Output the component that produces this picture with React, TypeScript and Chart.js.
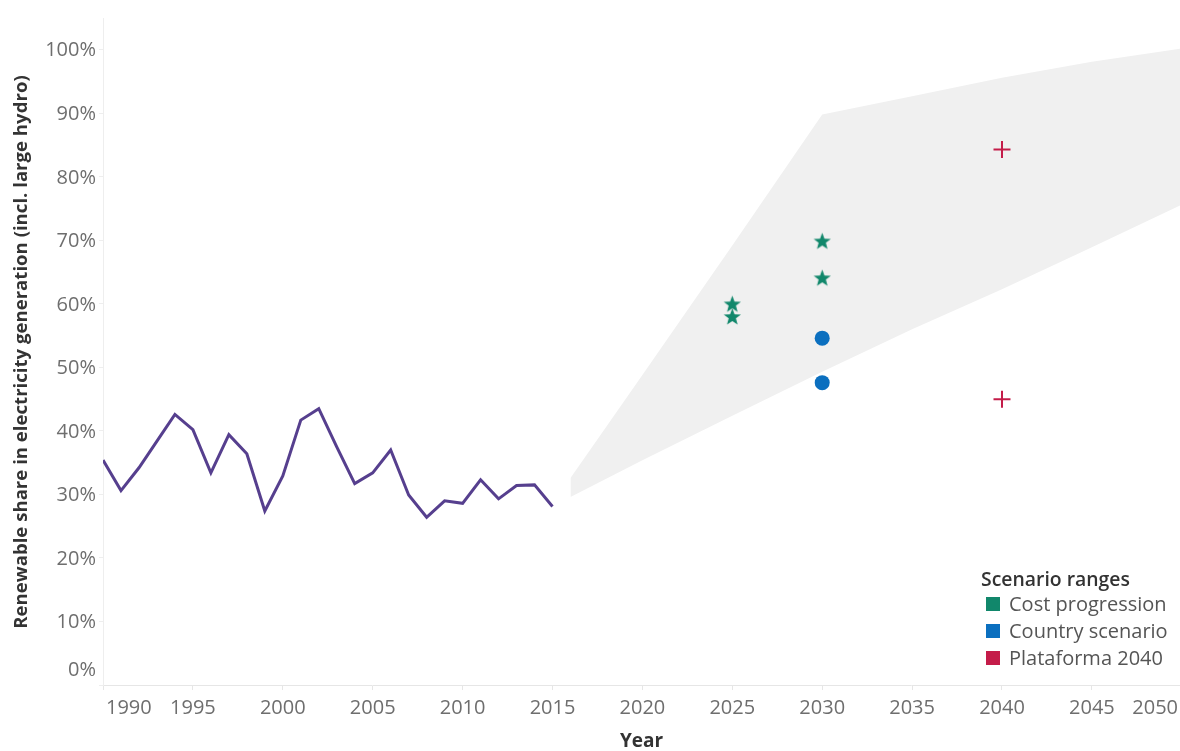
import { useEffect, useRef } from 'react';
import { Chart, registerables } from 'chart.js';

Chart.register(...registerables);

// ---------- data ----------
const historicYears = [1990, 1991, 1992, 1993, 1994, 1995, 1996, 1997, 1998, 1999, 2000, 2001, 2002, 2003, 2004, 2005, 2006, 2007, 2008, 2009, 2010, 2011, 2012, 2013, 2014, 2015];
const historicShare = [35.4, 30.6, 34.2, 38.4, 42.6, 40.2, 33.4, 39.4, 36.4, 27.4, 32.9, 41.7, 43.5, 37.5, 31.7, 33.4, 37.0, 29.9, 26.4, 29.0, 28.6, 32.3, 29.3, 31.4, 31.5, 28.1];

const rangeYears = [2016, 2020, 2025, 2030, 2035, 2040, 2045, 2050];
const rangeUpper = [32.6, 48.8, 69.2, 89.8, 92.7, 95.6, 98.1, 100.2];
const rangeLower = [29.6, 35.4, 42.4, 49.3, 56.0, 62.3, 68.9, 75.6];

const costYears = [2025, 2025, 2030, 2030];
const costShare = [60.0, 58.0, 69.9, 64.1];
const countryYears = [2030, 2030];
const countryShare = [54.6, 47.6];
const plataformaYears = [2040, 2040];
const plataformaShare = [84.3, 45.0];

const xTickYears = [1990, 1995, 2000, 2005, 2010, 2015, 2020, 2025, 2030, 2035, 2040, 2045, 2050];
const yTickValues = [0, 10, 20, 30, 40, 50, 60, 70, 80, 90, 100];

const legendTitle = 'Scenario ranges';
const legendLabels = ['Cost progression', 'Country scenario', 'Plataforma 2040'];
const legendColors = ['#11876b', '#0b6fbf', '#c41c49'];

const yTitle = 'Renewable share in electricity generation (incl. large hydro)';
const xTitle = 'Year';

const FONT = '"Open Sans", "DejaVu Sans", sans-serif';
const TICK_COLOR = '#6e6e6e';
const TITLE_COLOR = '#333333';

function makeStar(color: string): HTMLCanvasElement {
  const c = document.createElement('canvas');
  const s = 19;
  c.width = s;
  c.height = s;
  const g = c.getContext('2d')!;
  const cx = s / 2, cy = s / 2 + 0.7, R = 9, r = 3.8;
  g.beginPath();
  for (let i = 0; i < 10; i++) {
    const rad = i % 2 === 0 ? R : r;
    const a = -Math.PI / 2 + (i * Math.PI) / 5;
    const px = cx + rad * Math.cos(a);
    const py = cy + rad * Math.sin(a);
    if (i === 0) g.moveTo(px, py); else g.lineTo(px, py);
  }
  g.closePath();
  g.fillStyle = color;
  g.fill();
  return c;
}

const axisLabelsPlugin = {
  id: 'axisLabels',
  afterDraw(chart: any) {
    const { ctx, chartArea, scales } = chart;
    const xs = scales.x;
    const ys = scales.y;
    ctx.save();
    ctx.fillStyle = TICK_COLOR;
    ctx.font = `20px ${FONT}`;
    ctx.textBaseline = 'middle';
    xTickYears.forEach((v) => {
      const label = String(v);
      const w = ctx.measureText(label).width;
      let px = xs.getPixelForValue(v);
      ctx.textAlign = 'center';
      if (px - w / 2 < chartArea.left) {
        ctx.textAlign = 'left';
        px = chartArea.left + 3;
      } else if (px + w / 2 > chartArea.right) {
        ctx.textAlign = 'right';
        px = chartArea.right - 2;
      }
      ctx.fillText(label, px, chartArea.bottom + 23);
    });
    ctx.textAlign = 'right';
    yTickValues.forEach((v) => {
      let py = ys.getPixelForValue(v) + 1;
      if (py > chartArea.bottom - 12) py = chartArea.bottom - 15;
      ctx.fillText(`${v}%`, chartArea.left - 7, py);
    });
    // axis titles
    ctx.fillStyle = TITLE_COLOR;
    ctx.textAlign = 'center';
    ctx.font = `bold 19px ${FONT}`;
    ctx.fillText(xTitle, (chartArea.left + chartArea.right) / 2, 742);
    ctx.font = `bold 18.6px ${FONT}`;
    ctx.translate(22, 352);
    ctx.rotate(-Math.PI / 2);
    ctx.fillText(yTitle, 0, 0);
    ctx.restore();
  },
};

export default function App() {
  const ref = useRef<HTMLCanvasElement>(null);

  useEffect(() => {
    document.body.style.margin = '0';
    const star = makeStar(legendColors[0]);
    const chart = new Chart(ref.current!, {
      type: 'line',
      data: {
        datasets: [
          {
            label: 'upper',
            data: rangeYears.map((x, i) => ({ x, y: rangeUpper[i] })),
            borderWidth: 0,
            borderColor: 'rgba(0,0,0,0)',
            backgroundColor: '#f0f0f0',
            pointRadius: 0,
            fill: '+1',
            tension: 0,
            order: 10,
          },
          {
            label: 'lower',
            data: rangeYears.map((x, i) => ({ x, y: rangeLower[i] })),
            borderWidth: 0,
            borderColor: 'rgba(0,0,0,0)',
            pointRadius: 0,
            fill: false,
            tension: 0,
            order: 11,
          },
          {
            label: 'Historic',
            data: historicYears.map((x, i) => ({ x, y: historicShare[i] })),
            borderColor: '#563f8e',
            borderWidth: 3,
            pointRadius: 0,
            fill: false,
            tension: 0,
            order: 5,
          },
          {
            label: legendLabels[0],
            data: costYears.map((x, i) => ({ x, y: costShare[i] })),
            showLine: false,
            pointStyle: star as any,
            pointRadius: 9,
            backgroundColor: legendColors[0],
            borderColor: legendColors[0],
            order: 1,
          },
          {
            label: legendLabels[1],
            data: countryYears.map((x, i) => ({ x, y: countryShare[i] })),
            showLine: false,
            pointStyle: 'circle',
            pointRadius: 7.5,
            borderWidth: 0,
            backgroundColor: legendColors[1],
            borderColor: legendColors[1],
            order: 1,
          },
          {
            label: legendLabels[2],
            data: plataformaYears.map((x, i) => ({ x, y: plataformaShare[i] })),
            showLine: false,
            pointStyle: 'cross',
            pointRadius: 8.5,
            borderWidth: 2,
            backgroundColor: legendColors[2],
            borderColor: legendColors[2],
            order: 1,
          },
        ],
      },
      options: {
        animation: false,
        responsive: true,
        maintainAspectRatio: false,
        layout: { autoPadding: false, padding: { top: 18, right: 0, left: 0, bottom: 0 } },
        plugins: {
          legend: { display: false },
          tooltip: { enabled: false },
        },
        scales: {
          x: {
            type: 'linear',
            min: 1990,
            max: 2049.9,
            afterBuildTicks: (s: any) => {
              s.ticks = xTickYears.filter((v) => v <= 2049.9).map((v) => ({ value: v }));
            },
            afterFit: (s: any) => {
              s.height = 66;
              s.paddingLeft = 0;
              s.paddingRight = 0;
            },
            ticks: { display: false },
            grid: { drawOnChartArea: false, drawTicks: true, tickLength: 5, color: '#e6e6e6' },
            border: { color: '#e6e6e6' },
          },
          y: {
            type: 'linear',
            min: 0,
            max: 105,
            afterBuildTicks: (s: any) => {
              s.ticks = yTickValues.map((v) => ({ value: v }));
            },
            afterFit: (s: any) => {
              s.width = 103;
              s.paddingTop = 0;
              s.paddingBottom = 0;
            },
            ticks: { display: false },
            grid: { drawOnChartArea: false, drawTicks: true, tickLength: 4, color: '#eeeeee' },
            border: { color: '#eeeeee' },
          },
        },
      },
      plugins: [axisLabelsPlugin],
    });
    return () => chart.destroy();
  }, []);

  return (
    <div style={{ position: 'relative', width: 1180, height: 751, fontFamily: FONT }}>
      <canvas ref={ref} style={{ display: 'block' }} />
      <div style={{ position: 'absolute', left: 981, top: 565, lineHeight: '27px' }}>
        <div style={{ fontSize: 19.4, fontWeight: 600, color: TITLE_COLOR, height: 25 }}>{legendTitle}</div>
        {legendLabels.map((l, i) => (
          <div key={l} style={{ display: 'flex', alignItems: 'center', height: 27 }}>
            <span style={{ width: 14, height: 14, background: legendColors[i], display: 'inline-block', marginLeft: 5, marginRight: 9 }} />
            <span style={{ fontSize: 20, color: '#555555' }}>{l}</span>
          </div>
        ))}
      </div>
    </div>
  );
}
